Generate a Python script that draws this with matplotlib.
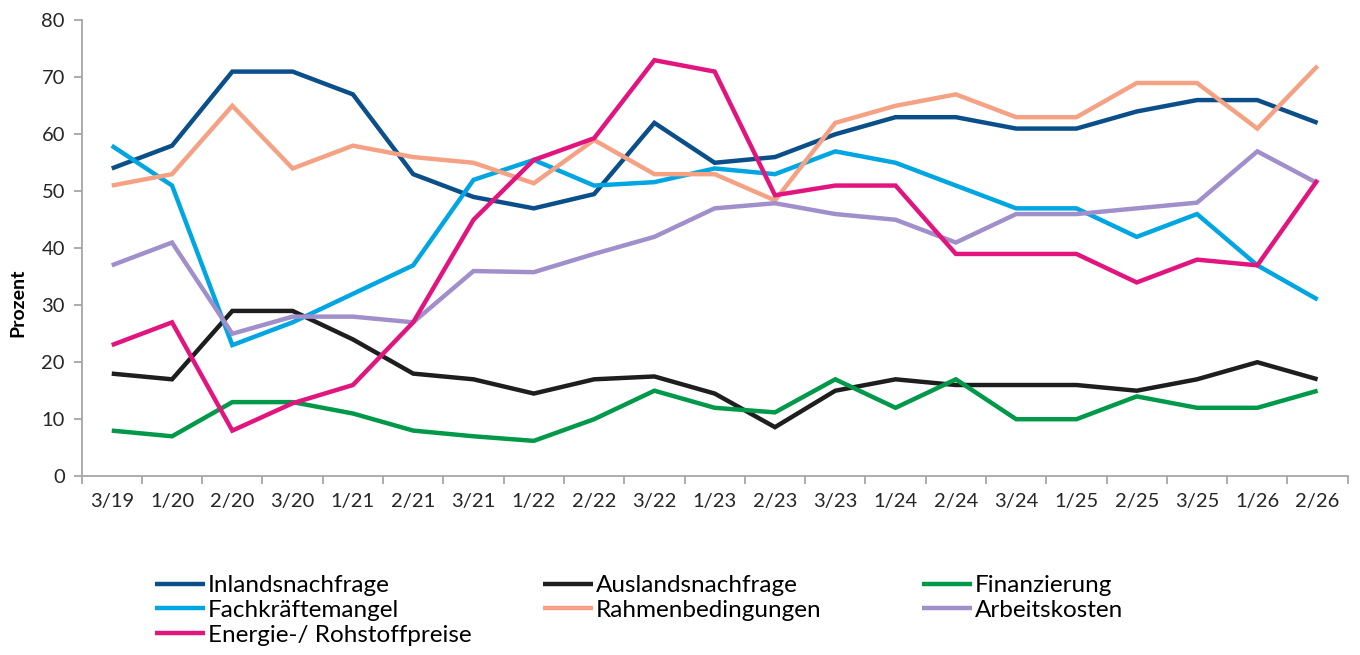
import numpy as np
import matplotlib
matplotlib.use("Agg")
import matplotlib.pyplot as plt
from matplotlib.ticker import FixedLocator

plt.rcParams['font.family'] = ['Lato', 'DejaVu Sans']

quarters = ['3/19', '1/20', '2/20', '3/20', '1/21', '2/21', '3/21', '1/22', '2/22', '3/22', '1/23',
            '2/23', '3/23', '1/24', '2/24', '3/24', '1/25', '2/25', '3/25', '1/26', '2/26']

inland = [54, 58, 71, 71, 67, 53, 49, 47, 49.5, 62, 55, 56, 60, 63, 63, 61, 61, 64, 66, 66, 62]
ausland = [18, 17, 29, 29, 24, 18, 17, 14.5, 17, 17.5, 14.5, 8.6, 15, 17, 16, 16, 16, 15, 17, 20, 17]
finanz = [8, 7, 13, 13, 11, 8, 7, 6.2, 10, 15, 12, 11.2, 17, 12, 17, 10, 10, 14, 12, 12, 15]
fachkraft = [58, 51, 23, 27, 32, 37, 52, 55.5, 51, 51.6, 54, 53, 57, 55, 51, 47, 47, 42, 46, 37, 31]
rahmen = [51, 53, 65, 54, 58, 56, 55, 51.4, 59, 53, 53, 48.4, 62, 65, 67, 63, 63, 69, 69, 61, 72]
arbeit = [37, 41, 25, 28, 28, 27, 36, 35.8, 39, 42, 47, 47.9, 46, 45, 41, 46, 46, 47, 48, 57, 51.4]
energie = [23, 27, 8, 12.8, 16, 27, 45, 55.5, 59.3, 73, 71, 49.3, 51, 51, 39, 39, 39, 34, 38, 37, 52]

series = [
    ('Inlandsnachfrage', inland, '#0b4f8a'),
    ('Auslandsnachfrage', ausland, '#1e1e1e'),
    ('Finanzierung', finanz, '#00994a'),
    ('Fachkräftemangel', fachkraft, '#00a6e2'),
    ('Rahmenbedingungen', rahmen, '#f4a283'),
    ('Arbeitskosten', arbeit, '#a08fcb'),
    ('Energie-/ Rohstoffpreise', energie, '#e2157f'),
]

fig = plt.figure(figsize=(13.6, 6.55), dpi=100)
ax = fig.add_axes([0.060, 0.273, 0.931, 0.696])

x = np.arange(len(quarters))
handles = {}
for name, vals, col in series:
    ln, = ax.plot(x, vals, color=col, lw=3.2, solid_joinstyle='miter', solid_capstyle='butt')
    handles[name] = ln

ax.set_xlim(-0.5, len(quarters) - 0.5)
ax.set_ylim(0, 80)
ax.set_yticks(range(0, 81, 10))
ax.set_xticks(x)
ax.set_xticklabels(quarters)
ax.xaxis.set_minor_locator(FixedLocator(np.arange(-0.5, len(quarters), 1.0)))

grey = '#a6a6a6'
for s in ['top', 'right']:
    ax.spines[s].set_visible(False)
for s in ['left', 'bottom']:
    ax.spines[s].set_color(grey)
    ax.spines[s].set_linewidth(1.3)

ax.tick_params(axis='y', which='major', length=6, width=1.3, color=grey, labelsize=14.5,
               labelcolor='#262626', pad=6)
ax.tick_params(axis='x', which='major', length=0, labelsize=14.5, labelcolor='#262626', pad=12)
ax.tick_params(axis='x', which='minor', length=6, width=1.3, color=grey)

ax.set_ylabel('Prozent', fontsize=14, fontweight='bold')
ax.yaxis.set_label_coords(-0.044, 0.38)

# legend in three columns, placed by hand
cols = [
    (['Inlandsnachfrage', 'Fachkräftemangel', 'Energie-/ Rohstoffpreise'], 0.114),
    (['Auslandsnachfrage', 'Rahmenbedingungen'], 0.399),
    (['Finanzierung', 'Arbeitskosten'], 0.678),
]
for names, xpos in cols:
    fig.legend([handles[n] for n in names], names, loc='upper left',
               bbox_to_anchor=(xpos, 0.122), frameon=False, fontsize=17.5,
               handlelength=2.06, handletextpad=0.12, labelspacing=0.16,
               borderaxespad=0, borderpad=0)

fig.savefig('out.png', dpi=100)
